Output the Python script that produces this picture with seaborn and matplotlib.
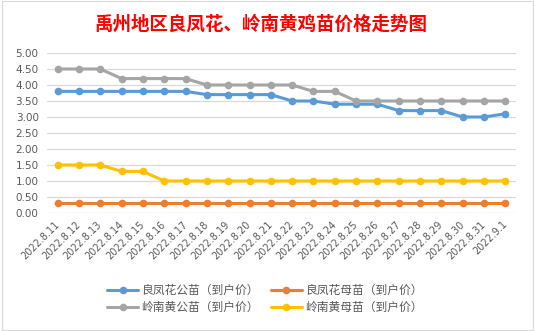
import matplotlib
matplotlib.use("Agg")
import matplotlib.pyplot as plt
import seaborn as sns
import pandas as pd
import numpy as np

dates = ["2022.8.11", "2022.8.12", "2022.8.13", "2022.8.14", "2022.8.15", "2022.8.16",
         "2022.8.17", "2022.8.18", "2022.8.19", "2022.8.20", "2022.8.21", "2022.8.22",
         "2022.8.23", "2022.8.24", "2022.8.25", "2022.8.26", "2022.8.27", "2022.8.28",
         "2022.8.29", "2022.8.30", "2022.8.31", "2022.9.1"]
lfh_male = [3.8, 3.8, 3.8, 3.8, 3.8, 3.8, 3.8, 3.7, 3.7, 3.7, 3.7, 3.5, 3.5, 3.4, 3.4,
            3.4, 3.2, 3.2, 3.2, 3.0, 3.0, 3.1]
lfh_female = [0.3] * 22
ln_male = [4.5, 4.5, 4.5, 4.2, 4.2, 4.2, 4.2, 4.0, 4.0, 4.0, 4.0, 4.0, 3.8, 3.8, 3.5,
           3.5, 3.5, 3.5, 3.5, 3.5, 3.5, 3.5]
ln_female = [1.5, 1.5, 1.5, 1.3, 1.3, 1.0, 1.0, 1.0, 1.0, 1.0, 1.0, 1.0, 1.0, 1.0, 1.0,
             1.0, 1.0, 1.0, 1.0, 1.0, 1.0, 1.0]
series_names = ["良凤花公苗（到户价）", "良凤花母苗（到户价）", "岭南黄公苗（到户价）", "岭南黄母苗（到户价）"]
colors = ["#5B9BD5", "#ED7D31", "#A5A5A5", "#FFC000"]
title = "禹州地区良凤花、岭南黄鸡苗价格走势图"

sns.set_theme(style="white")
plt.rcParams['font.family'] = ['Noto Sans CJK SC', 'DejaVu Sans']

rows = []
for name, vals in zip(series_names, [lfh_male, lfh_female, ln_male, ln_female]):
    for i, v in enumerate(vals):
        rows.append({"idx": i, "value": v, "series": name})
df = pd.DataFrame(rows)

fig = plt.figure(figsize=(5.35, 3.31), dpi=100)
ax = fig.add_axes([47/535, 1-213/331, (516-47)/535, (213-53)/331])

sns.lineplot(data=df, x="idx", y="value", hue="series", hue_order=series_names,
             palette=colors, marker="o", markersize=5.5, markeredgewidth=0,
             linewidth=2.2, ax=ax, legend=True)

ax.set_xlim(-0.5, len(dates) - 0.5)
ax.set_ylim(0, 5)
ax.set_yticks(np.arange(0, 5.01, 0.5))
ax.set_yticklabels([f"{v:.2f}" for v in np.arange(0, 5.01, 0.5)], fontsize=7.5,
                   color="#595959", family=['DejaVu Sans'])
ax.set_xticks(range(len(dates)))
ax.set_xticklabels(dates, rotation=45, ha="right", va="center", rotation_mode="anchor",
                   fontsize=7, color="#595959", family=['DejaVu Sans'])
ax.tick_params(axis='x', pad=7, length=0)
ax.tick_params(axis='y', pad=6, length=0)
ax.set_xlabel("")
ax.set_ylabel("")
ax.yaxis.grid(True, color="#D9D9D9", linewidth=0.9)
ax.xaxis.grid(False)
for s in ax.spines.values():
    s.set_visible(False)
ax.set_axisbelow(True)

handles, labels = ax.get_legend_handles_labels()
ax.get_legend().remove()
order = [0, 2, 1, 3]
fig.legend([handles[i] for i in order], [labels[i] for i in order], loc="center",
           bbox_to_anchor=(265/535, 1-299/331), ncol=2,
           frameon=False, fontsize=8.5, handlelength=2.6, columnspacing=1.0,
           labelspacing=0.3, handletextpad=0.3, labelcolor="#595959")

fig.text(261/535, 1-24/331, title, ha="center", va="center", fontsize=13.3,
         fontweight="bold", color="#FF0000")

fig.patches.append(plt.Rectangle((0.003, 0.003), 0.994, 0.994, transform=fig.transFigure,
                                 fill=False, edgecolor="#D9D9D9", linewidth=0.8))

fig.savefig("out.png", dpi=100)
